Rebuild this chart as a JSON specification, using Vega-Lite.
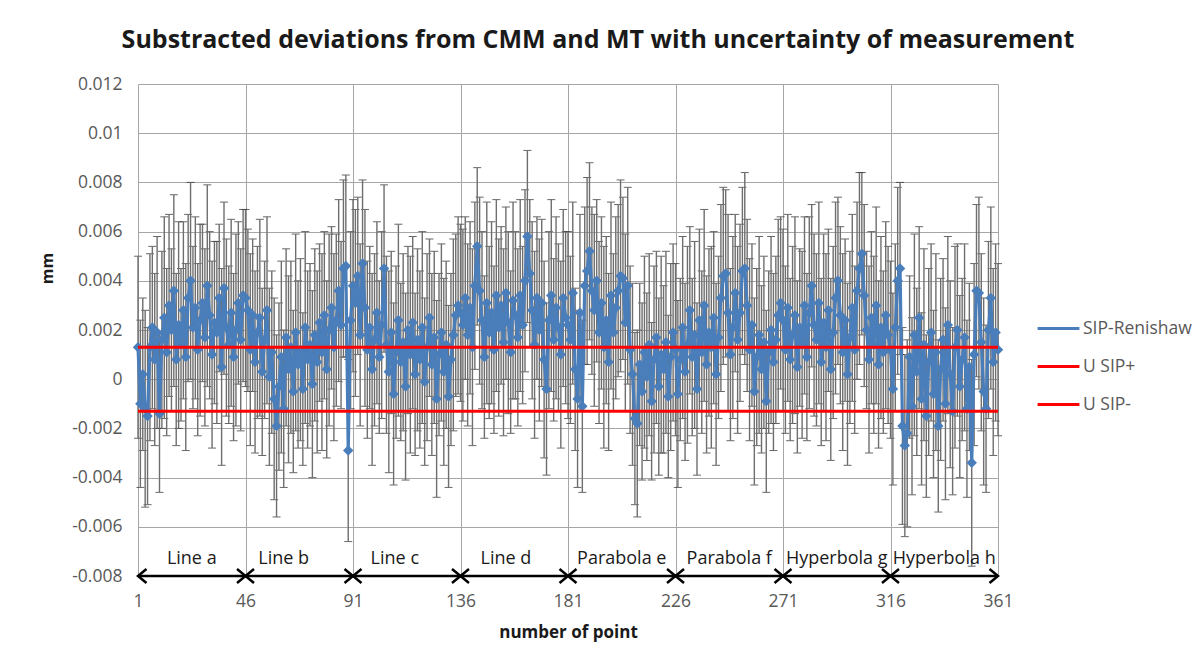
{
"$schema": "https://vega.github.io/schema/vega-lite/v6.json",
"width": 860, "height": 492,
"autosize": {"type": "none"},
"padding": {"left": 138, "top": 84, "right": 203, "bottom": 91},
"background": "white",
"title": {"text": "Substracted deviations from CMM and MT with uncertainty of measurement", "font": "Open Sans", "fontSize": 25, "fontWeight": "bold", "color": "#1a1a1a", "anchor": "middle", "dx": 30, "offset": 22},
"config": {"view": {"stroke": null}, "font": "Open Sans"},
"datasets": {
"pts": [
{"p":1,"d":0.0013,"u":0.0037},{"p":2,"d":-0.0010,"u":0.0034},{"p":3,"d":0.0002,"u":0.0031},{"p":4,"d":-0.0012,"u":0.0040},{"p":5,"d":-0.0015,"u":0.0036},{"p":6,"d":0.0013,"u":0.0038},{"p":7,"d":0.0021,"u":0.0033},{"p":8,"d":0.0008,"u":0.0035},{"p":9,"d":0.0019,"u":0.0039},{"p":10,"d":-0.0014,"u":0.0032},
{"p":11,"d":0.0016,"u":0.0036},{"p":12,"d":0.0025,"u":0.0041},{"p":13,"d":0.0011,"u":0.0034},{"p":14,"d":0.0030,"u":0.0037},{"p":15,"d":0.0020,"u":0.0033},{"p":16,"d":0.0036,"u":0.0039},{"p":17,"d":0.0008,"u":0.0035},{"p":18,"d":0.0022,"u":0.0042},{"p":19,"d":0.0014,"u":0.0031},{"p":20,"d":0.0028,"u":0.0036},
{"p":21,"d":0.0009,"u":0.0038},{"p":22,"d":0.0033,"u":0.0034},{"p":23,"d":0.0040,"u":0.0040},{"p":24,"d":0.0021,"u":0.0033},{"p":25,"d":0.0029,"u":0.0037},{"p":26,"d":0.0012,"u":0.0035},{"p":27,"d":0.0024,"u":0.0039},{"p":28,"d":0.0031,"u":0.0032},{"p":29,"d":0.0017,"u":0.0036},{"p":30,"d":0.0038,"u":0.0041},
{"p":31,"d":0.0026,"u":0.0034},{"p":32,"d":0.0010,"u":0.0038},{"p":33,"d":0.0023,"u":0.0033},{"p":34,"d":0.0019,"u":0.0037},{"p":35,"d":0.0033,"u":0.0030},{"p":36,"d":0.0005,"u":0.0040},{"p":37,"d":0.0037,"u":0.0035},{"p":38,"d":0.0021,"u":0.0036},{"p":39,"d":0.0014,"u":0.0032},{"p":40,"d":0.0027,"u":0.0038},
{"p":41,"d":0.0009,"u":0.0034},{"p":42,"d":0.0020,"u":0.0039},{"p":43,"d":0.0031,"u":0.0033},{"p":44,"d":0.0016,"u":0.0037},{"p":45,"d":0.0034,"u":0.0035},
{"p":46,"d":0.0033,"u":0.0036},{"p":47,"d":0.0028,"u":0.0033},{"p":48,"d":0.0012,"u":0.0039},{"p":49,"d":0.0026,"u":0.0031},{"p":50,"d":0.0007,"u":0.0037},{"p":51,"d":0.0019,"u":0.0035},{"p":52,"d":0.0025,"u":0.0040},{"p":53,"d":0.0003,"u":0.0034},{"p":54,"d":0.0016,"u":0.0032},{"p":55,"d":0.0028,"u":0.0038},
{"p":56,"d":0.0001,"u":0.0036},{"p":57,"d":0.0011,"u":0.0033},{"p":58,"d":-0.0008,"u":0.0041},{"p":59,"d":-0.0019,"u":0.0037},{"p":60,"d":-0.0003,"u":0.0034},{"p":61,"d":0.0009,"u":0.0039},{"p":62,"d":-0.0012,"u":0.0032},{"p":63,"d":0.0017,"u":0.0036},{"p":64,"d":0.0004,"u":0.0038},{"p":65,"d":0.0013,"u":0.0035},
{"p":66,"d":-0.0005,"u":0.0033},{"p":67,"d":0.0019,"u":0.0040},{"p":68,"d":0.0006,"u":0.0034},{"p":69,"d":0.0012,"u":0.0037},{"p":70,"d":-0.0004,"u":0.0031},{"p":71,"d":0.0021,"u":0.0039},{"p":72,"d":0.0008,"u":0.0036},{"p":73,"d":0.0014,"u":0.0033},{"p":74,"d":-0.0002,"u":0.0038},{"p":75,"d":0.0018,"u":0.0035},
{"p":76,"d":0.0007,"u":0.0037},{"p":77,"d":0.0023,"u":0.0032},{"p":78,"d":0.0011,"u":0.0040},{"p":79,"d":0.0026,"u":0.0034},{"p":80,"d":0.0004,"u":0.0036},{"p":81,"d":0.0020,"u":0.0039},{"p":82,"d":0.0029,"u":0.0033},{"p":83,"d":0.0013,"u":0.0038},{"p":84,"d":0.0024,"u":0.0035},{"p":85,"d":0.0036,"u":0.0037},
{"p":86,"d":0.0022,"u":0.0034},{"p":87,"d":0.0045,"u":0.0036},{"p":88,"d":0.0046,"u":0.0037},{"p":89,"d":-0.0029,"u":0.0037},{"p":90,"d":0.0024,"u":0.0036},
{"p":91,"d":0.0038,"u":0.0035},{"p":92,"d":0.0031,"u":0.0038},{"p":93,"d":0.0042,"u":0.0032},{"p":94,"d":0.0018,"u":0.0037},{"p":95,"d":0.0047,"u":0.0034},{"p":96,"d":0.0029,"u":0.0040},{"p":97,"d":0.0012,"u":0.0036},{"p":98,"d":0.0021,"u":0.0033},{"p":99,"d":0.0004,"u":0.0039},{"p":100,"d":0.0016,"u":0.0035},
{"p":101,"d":0.0027,"u":0.0037},{"p":102,"d":0.0009,"u":0.0031},{"p":103,"d":0.0022,"u":0.0038},{"p":104,"d":0.0045,"u":0.0034},{"p":105,"d":0.0014,"u":0.0036},{"p":106,"d":0.0003,"u":0.0041},{"p":107,"d":0.0019,"u":0.0033},{"p":108,"d":-0.0006,"u":0.0037},{"p":109,"d":0.0011,"u":0.0035},{"p":110,"d":0.0024,"u":0.0039},
{"p":111,"d":0.0007,"u":0.0032},{"p":112,"d":0.0015,"u":0.0036},{"p":113,"d":-0.0003,"u":0.0038},{"p":114,"d":0.0020,"u":0.0034},{"p":115,"d":0.0010,"u":0.0040},{"p":116,"d":0.0023,"u":0.0035},{"p":117,"d":0.0002,"u":0.0033},{"p":118,"d":0.0016,"u":0.0037},{"p":119,"d":0.0008,"u":0.0036},{"p":120,"d":0.0021,"u":0.0039},
{"p":121,"d":-0.0001,"u":0.0034},{"p":122,"d":0.0013,"u":0.0038},{"p":123,"d":0.0025,"u":0.0032},{"p":124,"d":0.0006,"u":0.0037},{"p":125,"d":0.0017,"u":0.0035},{"p":126,"d":-0.0008,"u":0.0040},{"p":127,"d":0.0010,"u":0.0033},{"p":128,"d":0.0019,"u":0.0036},{"p":129,"d":0.0003,"u":0.0038},{"p":130,"d":0.0014,"u":0.0034},
{"p":131,"d":-0.0007,"u":0.0037},{"p":132,"d":0.0008,"u":0.0035},{"p":133,"d":0.0018,"u":0.0039},{"p":134,"d":0.0026,"u":0.0033},{"p":135,"d":0.0030,"u":0.0036},
{"p":136,"d":0.0027,"u":0.0036},{"p":137,"d":0.0022,"u":0.0039},{"p":138,"d":0.0033,"u":0.0033},{"p":139,"d":0.0018,"u":0.0037},{"p":140,"d":0.0029,"u":0.0035},{"p":141,"d":0.0013,"u":0.0040},{"p":142,"d":0.0038,"u":0.0034},{"p":143,"d":0.0054,"u":0.0032},{"p":144,"d":0.0036,"u":0.0038},{"p":145,"d":0.0024,"u":0.0036},
{"p":146,"d":0.0009,"u":0.0033},{"p":147,"d":0.0031,"u":0.0041},{"p":148,"d":0.0019,"u":0.0035},{"p":149,"d":0.0027,"u":0.0037},{"p":150,"d":0.0012,"u":0.0034},{"p":151,"d":0.0034,"u":0.0039},{"p":152,"d":0.0021,"u":0.0036},{"p":153,"d":0.0030,"u":0.0032},{"p":154,"d":0.0015,"u":0.0038},{"p":155,"d":0.0035,"u":0.0035},
{"p":156,"d":0.0023,"u":0.0037},{"p":157,"d":0.0011,"u":0.0033},{"p":158,"d":0.0032,"u":0.0040},{"p":159,"d":0.0026,"u":0.0034},{"p":160,"d":0.0017,"u":0.0036},{"p":161,"d":0.0034,"u":0.0039},{"p":162,"d":0.0022,"u":0.0032},{"p":163,"d":0.0040,"u":0.0037},{"p":164,"d":0.0058,"u":0.0035},{"p":165,"d":0.0043,"u":0.0030},
{"p":166,"d":0.0028,"u":0.0036},{"p":167,"d":0.0014,"u":0.0038},{"p":168,"d":0.0033,"u":0.0033},{"p":169,"d":0.0020,"u":0.0037},{"p":170,"d":0.0031,"u":0.0034},{"p":171,"d":0.0008,"u":0.0040},{"p":172,"d":-0.0004,"u":0.0035},{"p":173,"d":0.0024,"u":0.0036},{"p":174,"d":0.0034,"u":0.0039},{"p":175,"d":0.0016,"u":0.0033},
{"p":176,"d":0.0029,"u":0.0037},{"p":177,"d":0.0021,"u":0.0034},{"p":178,"d":0.0010,"u":0.0038},{"p":179,"d":0.0033,"u":0.0036},{"p":180,"d":0.0025,"u":0.0035},
{"p":181,"d":0.0022,"u":0.0038},{"p":182,"d":0.0016,"u":0.0034},{"p":183,"d":0.0035,"u":0.0037},{"p":184,"d":0.0004,"u":0.0033},{"p":185,"d":-0.0008,"u":0.0036},{"p":186,"d":0.0027,"u":0.0040},{"p":187,"d":-0.0011,"u":0.0035},{"p":188,"d":0.0038,"u":0.0032},{"p":189,"d":0.0044,"u":0.0038},{"p":190,"d":0.0052,"u":0.0036},
{"p":191,"d":0.0036,"u":0.0034},{"p":192,"d":0.0028,"u":0.0039},{"p":193,"d":0.0040,"u":0.0033},{"p":194,"d":0.0019,"u":0.0037},{"p":195,"d":0.0031,"u":0.0035},{"p":196,"d":0.0013,"u":0.0041},{"p":197,"d":0.0024,"u":0.0034},{"p":198,"d":0.0007,"u":0.0036},{"p":199,"d":0.0034,"u":0.0038},{"p":200,"d":0.0019,"u":0.0032},
{"p":201,"d":0.0029,"u":0.0037},{"p":202,"d":0.0036,"u":0.0035},{"p":203,"d":0.0042,"u":0.0039},{"p":204,"d":0.0041,"u":0.0033},{"p":205,"d":0.0023,"u":0.0036},{"p":206,"d":0.0038,"u":0.0040},{"p":207,"d":0.0012,"u":0.0034},{"p":208,"d":0.0002,"u":0.0037},{"p":209,"d":-0.0016,"u":0.0035},{"p":210,"d":-0.0018,"u":0.0038},
{"p":211,"d":0.0006,"u":0.0033},{"p":212,"d":-0.0005,"u":0.0036},{"p":213,"d":0.0011,"u":0.0039},{"p":214,"d":0.0001,"u":0.0034},{"p":215,"d":0.0014,"u":0.0037},{"p":216,"d":-0.0009,"u":0.0032},{"p":217,"d":0.0008,"u":0.0038},{"p":218,"d":0.0017,"u":0.0035},{"p":219,"d":-0.0003,"u":0.0036},{"p":220,"d":0.0010,"u":0.0040},
{"p":221,"d":0.0004,"u":0.0034},{"p":222,"d":0.0015,"u":0.0037},{"p":223,"d":-0.0007,"u":0.0033},{"p":224,"d":0.0009,"u":0.0038},{"p":225,"d":0.0019,"u":0.0036},
{"p":226,"d":0.0012,"u":0.0035},{"p":227,"d":-0.0006,"u":0.0038},{"p":228,"d":0.0008,"u":0.0033},{"p":229,"d":0.0021,"u":0.0037},{"p":230,"d":0.0003,"u":0.0036},{"p":231,"d":0.0014,"u":0.0040},{"p":232,"d":0.0028,"u":0.0034},{"p":233,"d":0.0009,"u":0.0032},{"p":234,"d":0.0018,"u":0.0038},{"p":235,"d":-0.0004,"u":0.0035},
{"p":236,"d":0.0024,"u":0.0037},{"p":237,"d":0.0011,"u":0.0033},{"p":238,"d":0.0030,"u":0.0039},{"p":239,"d":0.0006,"u":0.0036},{"p":240,"d":0.0019,"u":0.0034},{"p":241,"d":0.0013,"u":0.0041},{"p":242,"d":0.0025,"u":0.0035},{"p":243,"d":0.0002,"u":0.0037},{"p":244,"d":0.0017,"u":0.0033},{"p":245,"d":0.0033,"u":0.0038},
{"p":246,"d":0.0042,"u":0.0036},{"p":247,"d":0.0043,"u":0.0034},{"p":248,"d":0.0027,"u":0.0040},{"p":249,"d":0.0010,"u":0.0035},{"p":250,"d":0.0021,"u":0.0037},{"p":251,"d":0.0035,"u":0.0032},{"p":252,"d":0.0016,"u":0.0038},{"p":253,"d":0.0027,"u":0.0036},{"p":254,"d":0.0044,"u":0.0034},{"p":255,"d":0.0045,"u":0.0039},
{"p":256,"d":0.0030,"u":0.0035},{"p":257,"d":0.0012,"u":0.0037},{"p":258,"d":0.0022,"u":0.0033},{"p":259,"d":-0.0005,"u":0.0038},{"p":260,"d":0.0009,"u":0.0036},{"p":261,"d":0.0018,"u":0.0040},{"p":262,"d":0.0004,"u":0.0034},{"p":263,"d":0.0015,"u":0.0035},{"p":264,"d":-0.0009,"u":0.0037},{"p":265,"d":0.0011,"u":0.0033},
{"p":266,"d":0.0020,"u":0.0038},{"p":267,"d":0.0007,"u":0.0036},{"p":268,"d":0.0016,"u":0.0034},{"p":269,"d":0.0026,"u":0.0039},{"p":270,"d":0.0031,"u":0.0035},
{"p":271,"d":0.0024,"u":0.0037},{"p":272,"d":0.0012,"u":0.0034},{"p":273,"d":0.0029,"u":0.0038},{"p":274,"d":0.0008,"u":0.0033},{"p":275,"d":0.0018,"u":0.0036},{"p":276,"d":0.0026,"u":0.0040},{"p":277,"d":0.0005,"u":0.0035},{"p":278,"d":0.0021,"u":0.0032},{"p":279,"d":0.0014,"u":0.0038},{"p":280,"d":0.0030,"u":0.0036},
{"p":281,"d":0.0009,"u":0.0034},{"p":282,"d":0.0027,"u":0.0039},{"p":283,"d":0.0038,"u":0.0033},{"p":284,"d":0.0022,"u":0.0037},{"p":285,"d":0.0016,"u":0.0035},{"p":286,"d":0.0031,"u":0.0041},{"p":287,"d":0.0007,"u":0.0034},{"p":288,"d":0.0023,"u":0.0036},{"p":289,"d":0.0013,"u":0.0038},{"p":290,"d":0.0028,"u":0.0033},
{"p":291,"d":0.0004,"u":0.0037},{"p":292,"d":0.0019,"u":0.0035},{"p":293,"d":0.0033,"u":0.0039},{"p":294,"d":0.0040,"u":0.0034},{"p":295,"d":0.0026,"u":0.0036},{"p":296,"d":0.0011,"u":0.0040},{"p":297,"d":0.0024,"u":0.0033},{"p":298,"d":0.0002,"u":0.0037},{"p":299,"d":0.0017,"u":0.0035},{"p":300,"d":0.0029,"u":0.0038},
{"p":301,"d":0.0012,"u":0.0034},{"p":302,"d":0.0036,"u":0.0036},{"p":303,"d":0.0045,"u":0.0039},{"p":304,"d":0.0051,"u":0.0033},{"p":305,"d":0.0034,"u":0.0037},{"p":306,"d":0.0020,"u":0.0032},{"p":307,"d":0.0008,"u":0.0038},{"p":308,"d":0.0025,"u":0.0035},{"p":309,"d":0.0014,"u":0.0036},{"p":310,"d":0.0030,"u":0.0040},
{"p":311,"d":0.0006,"u":0.0034},{"p":312,"d":0.0021,"u":0.0037},{"p":313,"d":0.0011,"u":0.0033},{"p":314,"d":0.0026,"u":0.0038},{"p":315,"d":0.0018,"u":0.0036},
{"p":316,"d":0.0012,"u":0.0036},{"p":317,"d":-0.0004,"u":0.0039},{"p":318,"d":0.0021,"u":0.0034},{"p":319,"d":0.0040,"u":0.0038},{"p":320,"d":0.0045,"u":0.0035},{"p":321,"d":-0.0019,"u":0.0040},{"p":322,"d":-0.0027,"u":0.0037},{"p":323,"d":-0.0022,"u":0.0038},{"p":324,"d":0.0009,"u":0.0033},{"p":325,"d":-0.0011,"u":0.0036},
{"p":326,"d":0.0018,"u":0.0041},{"p":327,"d":0.0003,"u":0.0034},{"p":328,"d":0.0025,"u":0.0037},{"p":329,"d":-0.0008,"u":0.0035},{"p":330,"d":0.0014,"u":0.0039},{"p":331,"d":-0.0015,"u":0.0033},{"p":332,"d":0.0007,"u":0.0038},{"p":333,"d":0.0019,"u":0.0036},{"p":334,"d":-0.0006,"u":0.0034},{"p":335,"d":0.0011,"u":0.0040},
{"p":336,"d":-0.0019,"u":0.0035},{"p":337,"d":0.0004,"u":0.0037},{"p":338,"d":0.0016,"u":0.0033},{"p":339,"d":-0.0010,"u":0.0039},{"p":340,"d":0.0022,"u":0.0036},{"p":341,"d":0.0002,"u":0.0038},{"p":342,"d":-0.0013,"u":0.0034},{"p":343,"d":0.0013,"u":0.0041},{"p":344,"d":0.0020,"u":0.0035},{"p":345,"d":-0.0003,"u":0.0037},
{"p":346,"d":0.0008,"u":0.0033},{"p":347,"d":0.0017,"u":0.0038},{"p":348,"d":-0.0012,"u":0.0036},{"p":349,"d":0.0005,"u":0.0034},{"p":350,"d":-0.0034,"u":0.0042},{"p":351,"d":0.0010,"u":0.0037},{"p":352,"d":0.0036,"u":0.0035},{"p":353,"d":0.0035,"u":0.0039},{"p":354,"d":0.0015,"u":0.0036},{"p":355,"d":-0.0005,"u":0.0038},
{"p":356,"d":-0.0012,"u":0.0034},{"p":357,"d":0.0020,"u":0.0036},{"p":358,"d":0.0033,"u":0.0037},{"p":359,"d":0.0007,"u":0.0038},{"p":360,"d":0.0019,"u":0.0036},{"p":361,"d":0.0012,"u":0.0035}
],
"lims": [
{"s": "U SIP+", "v": 0.0013, "a": 1, "b": 361},
{"s": "U SIP-", "v": -0.0013, "a": 1, "b": 361}
],
"seg": [
{"lab": "Line a", "s": 1, "e": 46, "lx": 23.5},
{"lab": "Line b", "s": 46, "e": 91, "lx": 62},
{"lab": "Line c", "s": 91, "e": 136, "lx": 108.5},
{"lab": "Line d", "s": 136, "e": 181, "lx": 155},
{"lab": "Parabola e", "s": 181, "e": 226, "lx": 203.5},
{"lab": "Parabola f", "s": 226, "e": 271, "lx": 248.5},
{"lab": "Hyperbola g", "s": 271, "e": 316, "lx": 293.5},
{"lab": "Hyperbola h", "s": 316, "e": 361, "lx": 338.5}
]
},
"layer": [
{
"data": {"name": "pts"},
"mark": {"type": "errorbar", "ticks": {"size": 8, "color": "#262626", "thickness": 1}, "rule": {"color": "#6e6e6e", "strokeWidth": 1.4}},
"encoding": {
"x": {"field": "p", "type": "quantitative", "scale": {"domain": [1, 361], "nice": false, "zero": false},
"axis": {"values": [1, 46, 91, 136, 181, 226, 271, 316, 361], "title": "number of point", "grid": true, "gridColor": "#a6a6a6", "ticks": false, "domain": false, "labelFontSize": 17.5, "labelColor": "#595959", "labelPadding": 16, "labelFlush": false, "titleFontSize": 17, "titleFontWeight": "bold", "titleColor": "#1a1a1a", "titlePadding": 15}},
"y": {"field": "d", "type": "quantitative", "scale": {"domain": [-0.008, 0.012], "nice": false, "zero": false},
"axis": {"values": [-0.008, -0.006, -0.004, -0.002, 0, 0.002, 0.004, 0.006, 0.008, 0.01, 0.012], "labelExpr": "replace(format(datum.value, '.3~f'), '\u2212', '-')", "title": "mm", "grid": true, "gridColor": "#a6a6a6", "ticks": false, "domain": false, "labelFontSize": 17.5, "labelColor": "#595959", "labelPadding": 16, "titleFontSize": 16, "titleFontWeight": "bold", "titleColor": "#1a1a1a", "titleX": -91, "titleY": 184, "titleBaseline": "middle", "titleAlign": "center"}},
"yError": {"field": "u"}
}
},
{
"data": {"name": "pts"},
"mark": {"type": "line", "strokeWidth": 3.2, "point": {"shape": "diamond", "filled": true, "size": 110}},
"encoding": {
"x": {"field": "p", "type": "quantitative"},
"y": {"field": "d", "type": "quantitative"},
"color": {"datum": "SIP-Renishaw", "type": "nominal",
"scale": {"domain": ["SIP-Renishaw", "U SIP+", "U SIP-"], "range": ["#4a7ebb", "#ff0000", "#ff0000"]},
"legend": {"title": null, "orient": "none", "legendX": 898, "legendY": 222, "symbolType": "stroke", "symbolSize": 1750, "symbolStrokeWidth": 3, "labelFontSize": 17.5, "labelColor": "#595959", "labelFont": "Open Sans", "rowPadding": 7, "padding": 0, "labelOffset": 2}}
}
},
{
"data": {"name": "lims"},
"mark": {"type": "rule", "strokeWidth": 3},
"encoding": {
"x": {"field": "a", "type": "quantitative"},
"x2": {"field": "b"},
"y": {"field": "v", "type": "quantitative"},
"color": {"field": "s", "type": "nominal", "legend": {"title": null}}
}
},
{
"data": {"name": "seg"},
"mark": {"type": "rule", "strokeWidth": 2.5, "color": "#000000"},
"encoding": {
"x": {"field": "s", "type": "quantitative"},
"x2": {"field": "e"},
"y": {"datum": -0.008, "type": "quantitative"}
}
},
{
"data": {"name": "seg"},
"mark": {"type": "point", "shape": "M 1.2 -1 L 0 0 L 1.2 1", "size": 200, "filled": false, "stroke": "#000000", "strokeWidth": 2.5, "opacity": 1},
"encoding": {
"x": {"field": "s", "type": "quantitative"},
"y": {"datum": -0.008, "type": "quantitative"}
}
},
{
"data": {"name": "seg"},
"mark": {"type": "point", "shape": "M -1.2 -1 L 0 0 L -1.2 1", "size": 200, "filled": false, "stroke": "#000000", "strokeWidth": 2.5, "opacity": 1},
"encoding": {
"x": {"field": "e", "type": "quantitative"},
"y": {"datum": -0.008, "type": "quantitative"}
}
},
{
"data": {"name": "seg"},
"mark": {"type": "text", "fontSize": 18, "color": "#1a1a1a", "baseline": "middle", "font": "Open Sans"},
"encoding": {
"x": {"field": "lx", "type": "quantitative"},
"y": {"datum": -0.0073, "type": "quantitative"},
"text": {"field": "lab"}
}
}
]
}
